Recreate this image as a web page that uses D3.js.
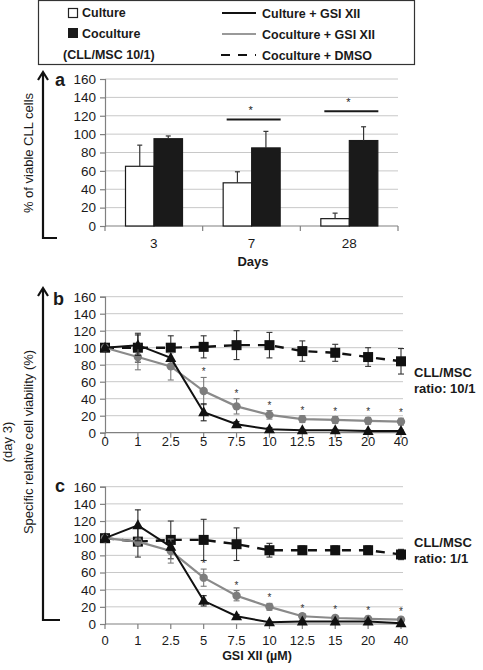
<!DOCTYPE html>
<html><head><meta charset="utf-8">
<script src="https://cdn.jsdelivr.net/npm/d3@7"></script>
<style>
body{margin:0;background:#fff;}
svg{display:block;font-family:"Liberation Sans",Arial,sans-serif;}
</style></head><body>
<svg id="c" width="483" height="670"></svg>
<script>
// ---------- Data ----------
const days = ["3", "7", "28"];
const barCulture = [65, 47, 8];
const barCultureErr = [23, 12, 6];
const barCoculture = [95, 85, 93];
const barCocultureErr = [3, 18, 15];
const sigDays = [["7", 116], ["28", 125]];

const doses = ["0", "1", "2.5", "5", "7.5", "10", "12.5", "15", "20", "40"];
const yTicks = [0, 20, 40, 60, 80, 100, 120, 140, 160];

// panel b (CLL/MSC 10/1)
const bCultGSI = [100, 103, 88, 24, 10, 4, 3, 3, 2, 2];
const bCultGSIErr = [0, 12, 0, 10, 3, 2, 1, 1, 1, 1];
const bCocGSI = [100, 89, 78, 49, 31, 21, 16, 15, 14, 13];
const bCocGSIErr = [0, 15, 16, 16, 9, 5, 4, 4, 4, 4];
const bDMSO = [100, 100, 100, 101, 103, 103, 96, 94, 89, 84];
const bDMSOErr = [0, 17, 14, 13, 17, 15, 12, 10, 11, 15];
const bStars = [false, false, false, true, true, true, true, true, true, true];

// panel c (CLL/MSC 1/1)
const cCultGSI = [100, 115, 90, 27, 9, 2, 3, 3, 3, 1];
const cCultGSIErr = [0, 18, 4, 6, 2, 1, 1, 1, 1, 1];
const cCocGSI = [100, 96, 85, 54, 33, 20, 9, 7, 6, 5];
const cCocGSIErr = [0, 4, 14, 10, 6, 4, 3, 3, 3, 3];
const cDMSO = [100, 96, 98, 98, 93, 86, 86, 86, 86, 81];
const cDMSOErr = [0, 18, 22, 24, 19, 8, 5, 5, 5, 6];
const cStars = [false, false, false, true, true, true, true, true, true, true];

const svg = d3.select("#c");
const TXT = "#1a1a1a";
const GRID = "#c8c8c8";
const AX = "#808080";
const GRAY = "#8a8a8a";

// ---------- Legend ----------
const lg = svg.append("g");
lg.append("rect").attr("x", 38.5).attr("y", 0.5).attr("width", 376).attr("height", 64)
  .attr("fill", "none").attr("stroke", "#333").attr("stroke-width", 1.2);
lg.append("rect").attr("x", 68.5).attr("y", 8.5).attr("width", 9).attr("height", 9)
  .attr("fill", "#fff").attr("stroke", "#222").attr("stroke-width", 1.2);
lg.append("rect").attr("x", 68).attr("y", 28).attr("width", 10).attr("height", 10).attr("fill", "#1a1a1a");
const lgText = [["Culture", 82, 17], ["Coculture", 82, 38], ["(CLL/MSC 10/1)", 63, 59],
  ["Culture + GSI XII", 262, 18], ["Coculture + GSI XII", 262, 39], ["Coculture + DMSO", 262, 60]];
lgText.forEach(([t, x, y]) => lg.append("text").attr("x", x).attr("y", y).text(t)
  .attr("font-size", 12.5).attr("font-weight", "bold").attr("fill", TXT));
lg.append("line").attr("x1", 222).attr("x2", 256).attr("y1", 13).attr("y2", 13).attr("stroke", "#111").attr("stroke-width", 2);
lg.append("line").attr("x1", 222).attr("x2", 256).attr("y1", 34).attr("y2", 34).attr("stroke", "#999").attr("stroke-width", 2);
lg.append("line").attr("x1", 221).attr("x2", 256).attr("y1", 55).attr("y2", 55).attr("stroke", "#111").attr("stroke-width", 2.2)
  .attr("stroke-dasharray", "9,8");

// arrow helper
function arrowAxis(x, yTop, yBot, xEnd) {
  svg.append("path").attr("d", `M${x},${yTop + 2} L${x},${yBot} L${xEnd},${yBot}`)
    .attr("fill", "none").attr("stroke", "#111").attr("stroke-width", 2.2);
  svg.append("path").attr("d", `M${x - 5},${yTop + 8} L${x},${yTop} L${x + 5},${yTop + 8}`)
    .attr("fill", "none").attr("stroke", "#111").attr("stroke-width", 2.2);
}

// y axis helper
function yAxisDraw(g, y, x0, x1) {
  g.append("g").selectAll("line").data(yTicks.filter(d => d > 0)).join("line")
    .attr("x1", x0).attr("x2", x1).attr("y1", d => y(d)).attr("y2", d => y(d))
    .attr("stroke", GRID).attr("stroke-width", 1);
  const ax = g.append("g").attr("transform", `translate(${x0},0)`)
    .call(d3.axisLeft(y).tickValues(yTicks).tickSize(5).tickPadding(4));
  ax.select(".domain").attr("stroke", AX).attr("stroke-width", 1.2);
  ax.selectAll(".tick line").attr("stroke", AX).attr("stroke-width", 1.2);
  ax.selectAll("text").attr("font-size", 13.5).attr("fill", TXT).attr("font-family", "Liberation Sans, Arial");
}

// ---------- Panel a ----------
const ga = svg.append("g");
const xa = d3.scaleBand().domain(days).range([105, 398]).paddingInner(0).paddingOuter(0);
const xs = d3.scaleBand().domain(["cult", "coc"]).range([20.5, 77.5]);
const ya = d3.scaleLinear().domain([0, 160]).range([226, 79]);
yAxisDraw(ga, ya, 105, 398);
ga.append("line").attr("x1", 105).attr("x2", 398).attr("y1", ya(0)).attr("y2", ya(0)).attr("stroke", AX).attr("stroke-width", 1.2);
const aBounds = days.map(d => xa(d)).concat([xa(days[2]) + xa.bandwidth()]);
ga.selectAll(".xt").data(aBounds).join("line").attr("x1", d => d).attr("x2", d => d)
  .attr("y1", ya(0)).attr("y2", ya(0) + 5).attr("stroke", AX).attr("stroke-width", 1.2);
ga.selectAll(".xl").data(days).join("text").attr("x", d => xa(d) + xa.bandwidth() / 2).attr("y", 248)
  .attr("text-anchor", "middle").attr("font-size", 13.5).attr("fill", TXT).text(d => d);
ga.append("text").attr("x", 253).attr("y", 266).attr("text-anchor", "middle").attr("font-size", 13)
  .attr("font-weight", "bold").attr("fill", TXT).text("Days");
const barData = [];
days.forEach((d, i) => {
  barData.push({ d, k: "cult", v: barCulture[i], e: barCultureErr[i] });
  barData.push({ d, k: "coc", v: barCoculture[i], e: barCocultureErr[i] });
});
ga.selectAll(".bar").data(barData).join("rect")
  .attr("x", b => xa(b.d) + xs(b.k)).attr("width", xs.bandwidth())
  .attr("y", b => ya(b.v)).attr("height", b => ya(0) - ya(b.v))
  .attr("fill", b => b.k === "cult" ? "#fff" : "#1a1a1a").attr("stroke", "#1a1a1a").attr("stroke-width", 1.2);
barData.forEach(b => {
  const cx = xa(b.d) + xs(b.k) + xs.bandwidth() / 2;
  ga.append("line").attr("x1", cx).attr("x2", cx).attr("y1", ya(b.v)).attr("y2", ya(b.v + b.e)).attr("stroke", "#333").attr("stroke-width", 1.2);
  ga.append("line").attr("x1", cx - 2.5).attr("x2", cx + 2.5).attr("y1", ya(b.v + b.e)).attr("y2", ya(b.v + b.e)).attr("stroke", "#333").attr("stroke-width", 1.2);
});
sigDays.forEach(([d, v]) => {
  const x0 = xa(d) + 24, x1 = xa(d) + 78;
  ga.append("line").attr("x1", x0).attr("x2", x1).attr("y1", ya(v)).attr("y2", ya(v)).attr("stroke", "#1a1a1a").attr("stroke-width", 2);
  ga.append("text").attr("x", (x0 + x1) / 2 - 3).attr("y", ya(v) - 5).attr("text-anchor", "middle").attr("font-size", 11).attr("fill", TXT).text("*");
});
arrowAxis(43, 72, 238, 57);
svg.append("text").attr("x", 55).attr("y", 86).attr("font-size", 18).attr("font-weight", "bold").attr("fill", TXT).text("a");
svg.append("text").attr("transform", "translate(33,153) rotate(-90)").attr("text-anchor", "middle")
  .attr("font-size", 13).attr("fill", TXT).text("% of viable CLL cells");

// ---------- Line panels ----------
function linePanel(yBot, yTop, labelOff, label, labelPos, ratio, ratioY, series, stars) {
  const g = svg.append("g");
  const x = d3.scalePoint().domain(doses).range([105, 401]);
  const y = d3.scaleLinear().domain([0, 160]).range([yBot, yTop]);
  yAxisDraw(g, y, 105, 403);
  g.append("line").attr("x1", 105).attr("x2", 403).attr("y1", y(0)).attr("y2", y(0)).attr("stroke", AX).attr("stroke-width", 1.2);
  g.selectAll(".xt").data(doses).join("line").attr("x1", d => x(d)).attr("x2", d => x(d))
    .attr("y1", y(0)).attr("y2", y(0) + 5).attr("stroke", AX).attr("stroke-width", 1.2);
  g.selectAll(".xl").data(doses).join("text").attr("x", d => x(d)).attr("y", y(0) + labelOff)
    .attr("text-anchor", "middle").attr("font-size", 13).attr("fill", TXT).text(d => d);

  const [cult, cultE, coc, cocE, dmso, dmsoE] = series;
  const line = vals => d3.line().x((v, i) => x(doses[i])).y(v => y(v))(vals);
  function errs(vals, es, col, w) {
    vals.forEach((v, i) => {
      if (!es[i]) return;
      const cx = x(doses[i]);
      g.append("line").attr("x1", cx).attr("x2", cx).attr("y1", y(v - es[i])).attr("y2", y(v + es[i])).attr("stroke", col).attr("stroke-width", w);
      [v - es[i], v + es[i]].forEach(t => g.append("line").attr("x1", cx - 3).attr("x2", cx + 3).attr("y1", y(t)).attr("y2", y(t)).attr("stroke", col).attr("stroke-width", w));
    });
  }
  errs(dmso, dmsoE, "#333", 1.1);
  g.append("path").attr("d", line(dmso)).attr("fill", "none").attr("stroke", "#111").attr("stroke-width", 2.4).attr("stroke-dasharray", "9,8");
  g.selectAll(".sq").data(dmso).join("rect").attr("x", (v, i) => x(doses[i]) - 5).attr("y", v => y(v) - 5)
    .attr("width", 10).attr("height", 10).attr("fill", "#111");
  errs(coc, cocE, "#7a7a7a", 1.1);
  g.append("path").attr("d", line(coc)).attr("fill", "none").attr("stroke", GRAY).attr("stroke-width", 2.2);
  g.selectAll(".ci").data(coc).join("circle").attr("cx", (v, i) => x(doses[i])).attr("cy", v => y(v)).attr("r", 4.2).attr("fill", "#7d7d7d");
  errs(cult, cultE, "#222", 1.1);
  g.append("path").attr("d", line(cult)).attr("fill", "none").attr("stroke", "#111").attr("stroke-width", 2);
  g.selectAll(".tr").data(cult).join("path")
    .attr("d", (v, i) => { const cx = x(doses[i]), cy = y(v); return `M${cx},${cy - 6} L${cx + 5.5},${cy + 4} L${cx - 5.5},${cy + 4}Z`; })
    .attr("fill", "#111");
  coc.forEach((v, i) => {
    if (!stars[i]) return;
    const top = Math.max(v + cocE[i], cult[i] + cultE[i]);
    g.append("text").attr("x", x(doses[i])).attr("y", y(top) - 2).attr("text-anchor", "middle").attr("font-size", 10).attr("fill", "#333").text("*");
  });
  svg.append("text").attr("x", labelPos[0]).attr("y", labelPos[1]).attr("font-size", 18).attr("font-weight", "bold").attr("fill", TXT).text(label);
  svg.append("text").attr("x", 414).attr("y", ratioY).attr("font-size", 13).attr("font-weight", "bold").attr("fill", TXT).text("CLL/MSC");
  svg.append("text").attr("x", 414).attr("y", ratioY + 16).attr("font-size", 13).attr("font-weight", "bold").attr("fill", TXT).text(ratio);
}
linePanel(432.7, 296.7, 13.5, "b", [53, 305], "ratio: 10/1", 377,
  [bCultGSI, bCultGSIErr, bCocGSI, bCocGSIErr, bDMSO, bDMSOErr], bStars);
linePanel(624, 486.7, 21, "c", [55, 492], "ratio: 1/1", 547,
  [cCultGSI, cCultGSIErr, cCocGSI, cCocGSIErr, cDMSO, cDMSOErr], cStars);
svg.append("text").attr("x", 257).attr("y", 660).attr("text-anchor", "middle").attr("font-size", 12.5)
  .attr("font-weight", "bold").attr("fill", TXT).text("GSI XII (µM)");

arrowAxis(43, 288, 620, 60);
svg.append("text").attr("transform", "translate(33,442) rotate(-90)").attr("text-anchor", "middle")
  .attr("font-size", 13).attr("fill", TXT).text("Specific relative cell viability (%)");
svg.append("text").attr("transform", "translate(12,442) rotate(-90)").attr("text-anchor", "middle")
  .attr("font-size", 13).attr("fill", TXT).text("(day 3)");
</script>
</body></html>
